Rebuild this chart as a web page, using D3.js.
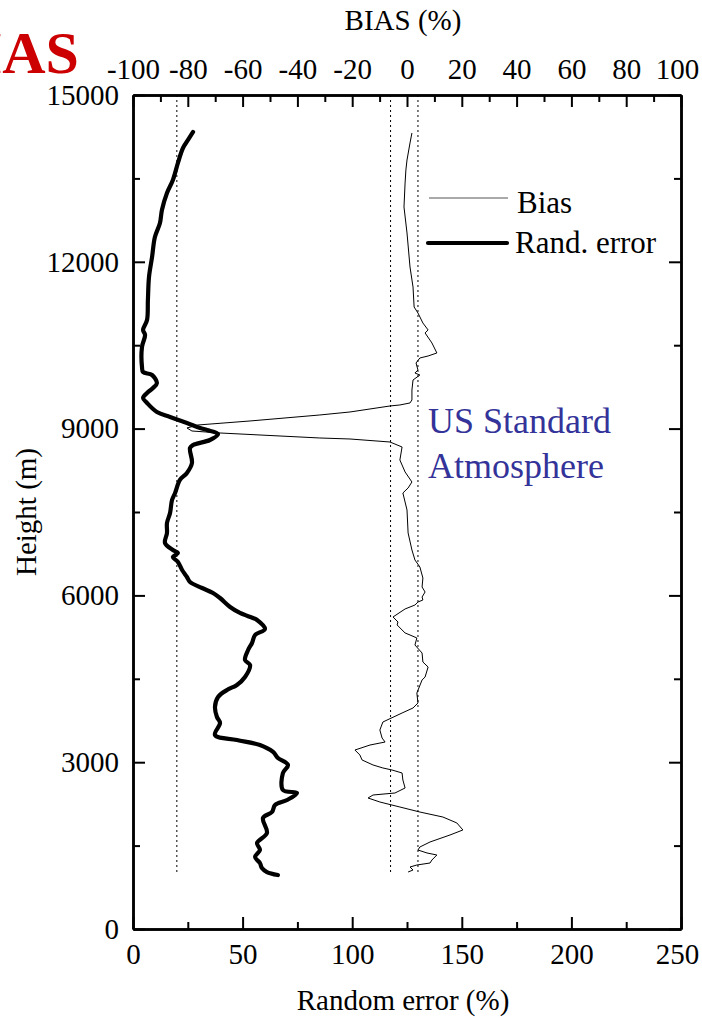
<!DOCTYPE html>
<html>
<head>
<meta charset="utf-8">
<script src="https://cdn.jsdelivr.net/npm/d3@7"></script>
<style>
  body { margin: 0; background: #fff; }
  svg { display: block; }
  text { font-family: "Liberation Serif", "Times New Roman", serif; }
</style>
</head>
<body>
<div id="chart"></div>
<script>
// random error profile (%), height (m)
const reHeight = [14335,14191,14047,13778,13472,13238,12932,12698,12446,12087,11727,11313,10953,10774,10684,10468,10108,10018,9964,9820,9730,9640,9550,9461,9299,9209,9101,9011,8975,8903,8795,8705,8651,8381,8202,8076,7842,7716,7482,7302,7123,6943,6817,6763,6691,6601,6457,6331,6241,6133,6043,5953,5791,5684,5594,5558,5396,5288,5144,5018,4838,4748,4532,4389,4299,4173,3993,3813,3705,3489,3399,3309,3184,3076,2950,2806,2500,2446,2320,2230,2104,1996,1727,1547,1421,1295,1187,1097,1025,971];
const reValue = [27.4,25.1,22.8,20.5,18.2,15.5,13.2,12.3,10.0,8.7,7.3,6.8,6.4,4.6,5.5,4.1,4.1,4.6,8.7,10.9,9.1,6.4,4.6,6.4,10.9,16.9,24.6,30.6,33.8,38.8,35.1,27.4,26.0,26.9,24.6,21.4,19.2,17.8,16.9,15.5,15.5,14.6,18.2,20.5,18.2,20.5,22.4,24.6,26.0,31.5,36.5,39.7,44.3,48.8,54.7,56.6,60.2,55.7,54.3,52.5,51.1,53.4,51.1,47.4,42.9,38.8,37.4,38.3,39.7,37.4,47.4,57.9,63.9,66.1,70.7,68.4,68.4,74.8,70.3,64.8,63.4,59.3,61.1,56.6,57.9,55.7,57.9,58.8,61.1,66.1];

// bias profile (%), height (m)
const biasHeight = [14317,14137,13831,13652,13418,12986,12518,11907,11547,11187,11079,10899,10774,10720,10540,10360,10306,10270,10180,10054,10000,9964,9874,9694,9515,9461,9425,9407,9299,9245,9137,9065,9011,8957,8921,8831,8813,8759,8669,8435,8220,8040,7932,7842,7536,7123,6817,6637,6511,6313,6151,6061,5971,5917,5881,5827,5756,5612,5522,5468,5324,5288,5234,5108,4964,4802,4712,4532,4479,4245,4065,3975,3885,3723,3579,3435,3363,3309,3219,3130,3040,2950,2896,2860,2806,2680,2536,2446,2410,2356,2284,2194,2104,2014,1907,1781,1691,1565,1475,1421,1367,1331,1241,1187,1151,1115,1061,1025];
const biasValue = [1.8,1.1,0,-0.4,-0.7,-1.1,0,1.1,2.2,2.6,4.0,5.8,7.7,6.6,9.1,10.9,7.7,4.7,3.3,4.0,2.9,4.7,2.2,1.8,1.8,1.1,-2.6,-6.2,-20.8,-31.8,-57.3,-76.3,-80.3,-78.5,-68.2,-31.8,-20.8,-6.2,-1.8,-2.6,-0.7,1.8,0.4,-1.5,0,0.4,1.8,2.9,4.7,5.8,5.5,6.6,5.5,5.8,4.0,2.9,-0.7,-5.1,-3.3,-3.6,-0.7,1.1,3.6,2.9,5.5,5.8,7.7,6.6,5.5,3.6,4.0,2.2,-1.8,-8.8,-9.9,-9.1,-8.0,-13.5,-19.0,-17.2,-16.4,-12.4,-8.8,-5.5,-1.8,-1.5,-0.7,-4.4,-12.4,-14.2,-9.9,-2.6,4.7,13.1,18.2,20.4,15.7,8.4,4.7,4.0,7.3,10.9,9.1,8.4,3.6,1.1,2.2,0.4];

// reference dotted lines
const reRefLines = [20];
const biasRefLines = [-6, 4];
const refTop = 15000, refBottom = 1000;

// ticks
const errTicks = [0, 50, 100, 150, 200, 250];
const errMinor = [25, 75, 125, 175, 225];
const biasTicks = [-100, -80, -60, -40, -20, 0, 20, 40, 60, 80, 100];
const biasMinor = [-90, -70, -50, -30, -10, 10, 30, 50, 70, 90];
const hTicks = [0, 3000, 6000, 9000, 12000, 15000];
const hMinor = [1500, 4500, 7500, 10500, 13500];

const W = 702, H = 1020;
const m = { left: 133, right: 681, top: 95, bottom: 929 };

const svg = d3.select("#chart").append("svg")
    .attr("width", W)
    .attr("height", H);

const x = d3.scaleLinear().domain([0, 250]).range([m.left, m.right]);
const xb = d3.scaleLinear().domain([-100, 100]).range([m.left, m.right]);
const y = d3.scaleLinear().domain([0, 15000]).range([m.bottom, m.top]);

// plain labels, hyphen minus, no thousands comma
const plain = d => String(d);

// dotted guide lines
reRefLines.forEach(v => {
    svg.append("line")
        .attr("x1", x(v)).attr("x2", x(v))
        .attr("y1", y(refTop)).attr("y2", y(refBottom))
        .attr("stroke", "#000").attr("stroke-width", 1)
        .attr("stroke-dasharray", "2,3");
});
biasRefLines.forEach(v => {
    svg.append("line")
        .attr("x1", xb(v)).attr("x2", xb(v))
        .attr("y1", y(refTop)).attr("y2", y(refBottom))
        .attr("stroke", "#000").attr("stroke-width", 1)
        .attr("stroke-dasharray", "2,3");
});

// curves
const reLine = d3.line().x(d => x(d[0])).y(d => y(d[1])).curve(d3.curveCatmullRom.alpha(0.5));
const biasLine = d3.line().x(d => xb(d[0])).y(d => y(d[1]));

svg.append("path")
    .datum(biasValue.map((v, i) => [v, biasHeight[i]]))
    .attr("d", biasLine)
    .attr("fill", "none")
    .attr("stroke", "#000")
    .attr("stroke-width", 1);

svg.append("path")
    .datum(reValue.map((v, i) => [v, reHeight[i]]))
    .attr("d", reLine)
    .attr("fill", "none")
    .attr("stroke", "#000")
    .attr("stroke-width", 4.2)
    .attr("stroke-linejoin", "round")
    .attr("stroke-linecap", "round");

// axes
function styleAxis(g, fs) {
    g.selectAll(".domain").attr("stroke", "#000").attr("stroke-width", 2.5);
    g.selectAll(".tick line").attr("stroke", "#000").attr("stroke-width", 2);
    g.selectAll("text").attr("font-size", fs).attr("fill", "#000")
        .style("font-family", "'Liberation Serif', serif");
}

const gB = svg.append("g").attr("transform", `translate(0,${m.bottom})`)
    .call(d3.axisBottom(x).tickValues(errTicks).tickSize(-12).tickSizeOuter(0).tickPadding(14).tickFormat(plain));
styleAxis(gB, 29);
gB.selectAll(".tick text").filter(d => d === 250).attr("dx", -4);
const gBm = svg.append("g").attr("transform", `translate(0,${m.bottom})`)
    .call(d3.axisBottom(x).tickValues(errMinor).tickSize(-7).tickSizeOuter(0).tickFormat(""));
styleAxis(gBm, 29);

const gT = svg.append("g").attr("transform", `translate(0,${m.top})`)
    .call(d3.axisTop(xb).tickValues(biasTicks).tickSize(-12).tickSizeOuter(0).tickPadding(16).tickFormat(plain));
styleAxis(gT, 29);
gT.selectAll(".tick text").filter(d => d === 100).attr("dx", -4);
const gTm = svg.append("g").attr("transform", `translate(0,${m.top})`)
    .call(d3.axisTop(xb).tickValues(biasMinor).tickSize(-7).tickSizeOuter(0).tickFormat(""));
styleAxis(gTm, 29);

const gL = svg.append("g").attr("transform", `translate(${m.left},0)`)
    .call(d3.axisLeft(y).tickValues(hTicks).tickSize(-12).tickSizeOuter(0).tickPadding(14).tickFormat(plain));
styleAxis(gL, 29);
const gLm = svg.append("g").attr("transform", `translate(${m.left},0)`)
    .call(d3.axisLeft(y).tickValues(hMinor).tickSize(-7).tickSizeOuter(0).tickFormat(""));
styleAxis(gLm, 29);

const gR = svg.append("g").attr("transform", `translate(${m.right},0)`)
    .call(d3.axisRight(y).tickValues(hTicks).tickSize(-12).tickSizeOuter(0).tickFormat(""));
styleAxis(gR, 29);
const gRm = svg.append("g").attr("transform", `translate(${m.right},0)`)
    .call(d3.axisRight(y).tickValues(hMinor).tickSize(-7).tickSizeOuter(0).tickFormat(""));
styleAxis(gRm, 29);

// axis titles
svg.append("text")
    .attr("x", 403).attr("y", 30)
    .attr("text-anchor", "middle").attr("font-size", 29)
    .text("BIAS (%)");
svg.append("text")
    .attr("x", 403).attr("y", 1010)
    .attr("text-anchor", "middle").attr("font-size", 29)
    .text("Random error (%)");
svg.append("text")
    .attr("transform", `translate(36,${(m.top + m.bottom) / 2}) rotate(-90)`)
    .attr("text-anchor", "middle").attr("font-size", 29)
    .text("Height (m)");

// red cut-off label
svg.append("text")
    .attr("x", 79).attr("y", 73)
    .attr("text-anchor", "end")
    .attr("font-size", 60).attr("font-weight", "bold")
    .attr("fill", "#cc0000")
    .text("BIAS");

// legend
svg.append("line").attr("x1", 429).attr("x2", 508).attr("y1", 198).attr("y2", 198)
    .attr("stroke", "#555").attr("stroke-width", 1);
svg.append("text").attr("x", 517).attr("y", 213).attr("font-size", 31).text("Bias");
svg.append("line").attr("x1", 428).attr("x2", 507).attr("y1", 243).attr("y2", 243)
    .attr("stroke", "#000").attr("stroke-width", 4.2).attr("stroke-linecap", "round");
svg.append("text").attr("x", 515).attr("y", 253).attr("font-size", 31).text("Rand. error");

// annotation
svg.append("text").attr("x", 428).attr("y", 433).attr("font-size", 36)
    .attr("fill", "#333399").text("US Standard");
svg.append("text").attr("x", 428).attr("y", 478).attr("font-size", 36)
    .attr("fill", "#333399").text("Atmosphere");
</script>
</body>
</html>
